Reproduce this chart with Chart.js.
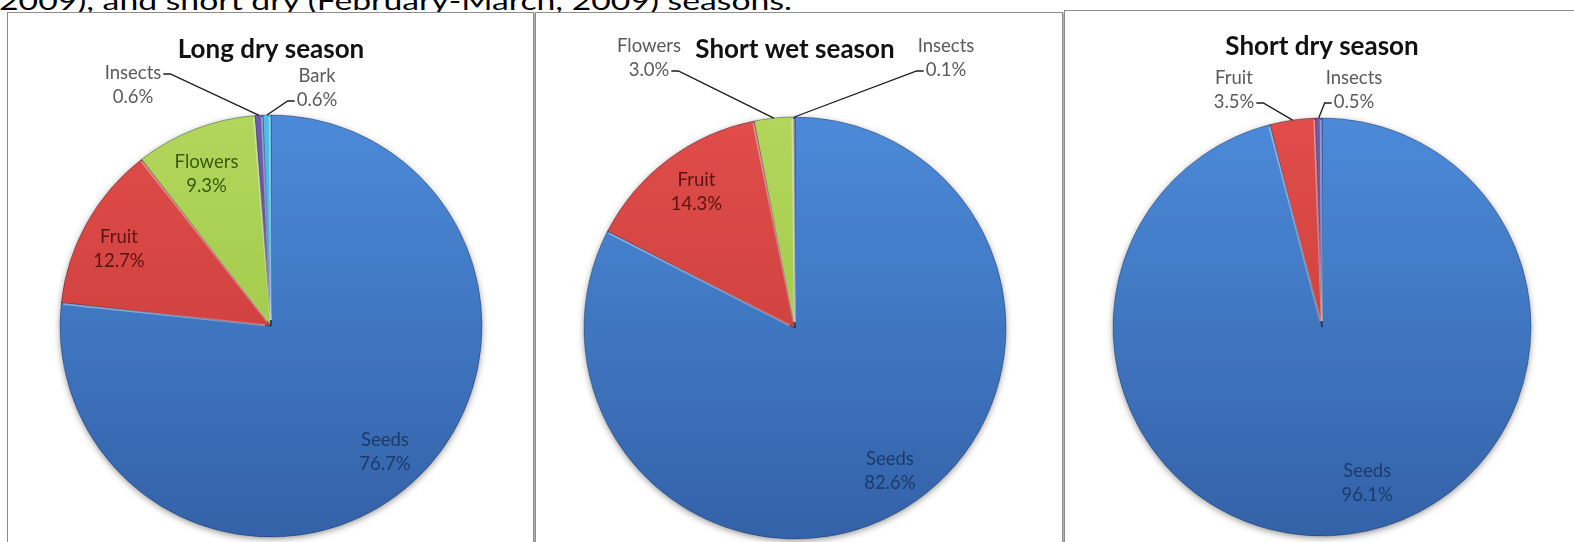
<!DOCTYPE html>
<html>
<head>
<meta charset="utf-8">
<title>Diet composition by season</title>
<script src="https://cdn.jsdelivr.net/npm/chart.js@4.4.1/dist/chart.umd.min.js"></script>
<style>
  html, body { margin: 0; padding: 0; background: #fff; }
  body { position: relative; width: 1574px; height: 542px; overflow: hidden; font-family: Lato, 'Open Sans', sans-serif; }
  .caption { position: absolute; left: -1px; top: -12px; font-size: 25px; line-height: 25px; white-space: nowrap; color: #000; transform: scaleX(1.35); transform-origin: 0 0; }
  .panel { position: absolute; box-sizing: border-box; border: 1px solid #8c8c8c; box-shadow: 1px 1px 1px rgba(0,0,0,0.3); background: #fff; }
  .panel canvas { position: absolute; left: 0; top: 0; }
</style>
</head>
<body>
<div class="caption">2009), and short dry (February-March, 2009) seasons.</div>
<div class="panel" style="left:7px; top:12px; width:527px; height:560px;"><canvas id="chartLongDry" width="525" height="540"></canvas></div>
<div class="panel" style="left:535px; top:12px; width:528px; height:560px;"><canvas id="chartShortWet" width="526" height="540"></canvas></div>
<div class="panel" style="left:1064px; top:10px; width:520px; height:560px;"><canvas id="chartShortDry" width="518" height="540"></canvas></div>

<script>
// diet composition (% of feeding records) per season
const seasonTitles = ['Long dry season', 'Short wet season', 'Short dry season'];

const longDryCategories = ['Seeds', 'Fruit', 'Flowers', 'Insects', 'Bark'];
const longDryValues = [76.7, 12.7, 9.3, 0.6, 0.6];

const shortWetCategories = ['Seeds', 'Fruit', 'Flowers', 'Insects'];
const shortWetValues = [82.6, 14.3, 3.0, 0.1];

const shortDryCategories = ['Seeds', 'Fruit', 'Insects'];
const shortDryValues = [96.1, 3.5, 0.5];

// colours per food type: gradient top/bottom and the label ink used inside the slice
const foodColors = {
  Seeds:   { top: '#4c8ad9', bottom: '#3362a8', ink: '#1d3a6a' },
  Fruit:   { top: '#e04d4a', bottom: '#c23836', ink: '#5e1212' },
  Flowers: { top: '#b2d65c', bottom: '#97c23e', ink: '#3a5a0c' },
  Insects: { top: '#6c5bb0', bottom: '#5a4898', ink: '#2e2260' },
  Bark:    { top: '#4cc0ea', bottom: '#34a2d0', ink: '#0d4660' }
};

function sliceFill(categories) {
  return function (context) {
    const c = foodColors[categories[context.dataIndex]];
    const area = context.chart.chartArea;
    if (!area) return c.top;
    const g = context.chart.ctx.createLinearGradient(0, area.top, 0, area.bottom);
    g.addColorStop(0, c.top);
    g.addColorStop(1, c.bottom);
    return g;
  };
}

// soft drop shadow under the whole pie
const pieShadow = {
  id: 'pieShadow',
  beforeDatasetsDraw(chart) {
    const arc = chart.getDatasetMeta(0).data[0];
    if (!arc) return;
    const ctx = chart.ctx;
    ctx.save();
    ctx.shadowColor = 'rgba(0,0,0,0.45)';
    ctx.shadowBlur = 7;
    ctx.shadowOffsetY = 2;
    ctx.beginPath();
    ctx.arc(arc.x, arc.y, arc.outerRadius - 0.5, 0, Math.PI * 2);
    ctx.fillStyle = '#3a6db0';
    ctx.fill();
    ctx.restore();
  }
};

// light bevel along the leading radial edge of each slice
const sliceBevel = {
  id: 'sliceBevel',
  afterDatasetsDraw(chart) {
    const meta = chart.getDatasetMeta(0);
    if (meta.data.length < 2) return;
    const ctx = chart.ctx;
    ctx.save();
    ctx.lineWidth = 2;
    ctx.strokeStyle = 'rgba(255,255,255,0.35)';
    meta.data.forEach(arc => {
      const a = arc.endAngle - 0.006;
      ctx.beginPath();
      ctx.moveTo(arc.x + Math.cos(a) * 6, arc.y + Math.sin(a) * 6);
      ctx.lineTo(arc.x + Math.cos(a) * (arc.outerRadius - 2), arc.y + Math.sin(a) * (arc.outerRadius - 2));
      ctx.stroke();
    });
    ctx.restore();
  }
};

// "Name / xx.x%" labels: inside along the bisector, or outside with a leader line
const sliceLabels = {
  id: 'sliceLabels',
  afterDatasetsDraw(chart, args, opts) {
    const ctx = chart.ctx;
    const meta = chart.getDatasetMeta(0);
    const labels = chart.data.labels;
    const values = chart.data.datasets[0].data;
    const lh = opts.lineHeight;
    ctx.save();
    ctx.font = opts.font;
    ctx.textAlign = 'center';
    ctx.textBaseline = 'middle';
    meta.data.forEach((arc, i) => {
      const name = labels[i];
      const lines = [name, values[i].toFixed(1) + '%'];
      const mid = (arc.startAngle + arc.endAngle) / 2;
      const out = opts.outside[name];
      if (!out) {
        const nudge = opts.nudge[name] || { dx: 0, dy: 0 };
        const d = arc.outerRadius * opts.inset;
        const x = arc.x + Math.cos(mid) * d + nudge.dx;
        const y = arc.y + Math.sin(mid) * d + nudge.dy;
        ctx.fillStyle = foodColors[name].ink;
        lines.forEach((t, k) => ctx.fillText(t, x, y + (k - 0.5) * lh));
        return;
      }
      const x = arc.x + out.dx;
      const y = arc.y + out.dy;
      ctx.fillStyle = opts.outsideColor;
      lines.forEach((t, k) => ctx.fillText(t, x, y + (k - 0.5) * lh));
      // leader line from the text edge to the rim of the slice
      const ly = y + (out.line - 0.5) * lh + 1;
      const w = ctx.measureText(lines[out.line]).width / 2 + 2;
      const sx = out.side === 'right' ? x + w : x - w;
      const ex = out.side === 'right' ? sx + 7 : sx - 7;
      const rx = arc.x + Math.cos(mid) * arc.outerRadius;
      const ry = arc.y + Math.sin(mid) * arc.outerRadius;
      ctx.strokeStyle = '#1a1a1a';
      ctx.lineWidth = 1.3;
      ctx.beginPath();
      ctx.moveTo(sx, ly);
      ctx.lineTo(ex, ly);
      ctx.lineTo(rx, ry);
      ctx.stroke();
    });
    ctx.restore();
  }
};

// page geometry of each panel: canvas origin, pie centre/radius, title middle
function buildPie(canvasId, title, categories, values, geo, outside, nudge) {
  const canvas = document.getElementById(canvasId);
  const W = canvas.width, H = canvas.height;
  const titleSize = 26;
  const titleLine = titleSize * 1.2;
  const cx = geo.cx - geo.left, cy = geo.cy - geo.top;
  const padTop = geo.titleY - geo.top - titleLine / 2;
  const titleBottom = cy - geo.r - padTop - titleLine;

  return new Chart(canvas, {
    type: 'pie',
    data: {
      labels: categories,
      datasets: [{
        data: values,
        backgroundColor: sliceFill(categories),
        borderColor: 'rgba(20,30,60,0.35)',
        borderWidth: 1,
        radius: geo.r
      }]
    },
    options: {
      responsive: false,
      animation: false,
      layout: {
        padding: {
          left: cx - geo.r,
          right: W - cx - geo.r,
          top: padTop,
          bottom: H - cy - geo.r
        }
      },
      plugins: {
        legend: { display: false },
        tooltip: { enabled: false },
        title: {
          display: true,
          text: title,
          color: '#111',
          font: { family: 'Lato', size: titleSize, weight: 'bold' },
          padding: { top: 0, bottom: titleBottom }
        },
        sliceLabels: {
          font: '18.5px Lato',
          lineHeight: 24,
          inset: 0.81,
          outsideColor: '#5a5a5a',
          outside: outside,
          nudge: nudge
        }
      }
    },
    plugins: [pieShadow, sliceBevel, sliceLabels]
  });
}

buildPie('chartLongDry', seasonTitles[0], longDryCategories, longDryValues,
  { left: 8, top: 13, cx: 271, cy: 326, r: 211, titleY: 50 },
  {
    Insects: { dx: -138, dy: -241, side: 'right', line: 0 },
    Bark:    { dx: 46, dy: -238, side: 'left', line: 1 }
  },
  { Fruit: { dx: -3, dy: 7 }, Flowers: { dx: -3, dy: 8 }, Seeds: { dx: 0, dy: -1 } });

buildPie('chartShortWet', seasonTitles[1], shortWetCategories, shortWetValues,
  { left: 536, top: 13, cx: 795, cy: 328, r: 211, titleY: 50 },
  {
    Flowers: { dx: -146, dy: -270, side: 'right', line: 1 },
    Insects: { dx: 151, dy: -270, side: 'left', line: 1 }
  },
  { Fruit: { dx: 4, dy: 1 }, Seeds: { dx: 6, dy: -3 } });

buildPie('chartShortDry', seasonTitles[2], shortDryCategories, shortDryValues,
  { left: 1065, top: 11, cx: 1322, cy: 327, r: 209, titleY: 47 },
  {
    Fruit:   { dx: -88, dy: -237, side: 'right', line: 1 },
    Insects: { dx: 32, dy: -237, side: 'left', line: 1 }
  },
  { Seeds: { dx: 24, dy: -12 } });
</script>
</body>
</html>
